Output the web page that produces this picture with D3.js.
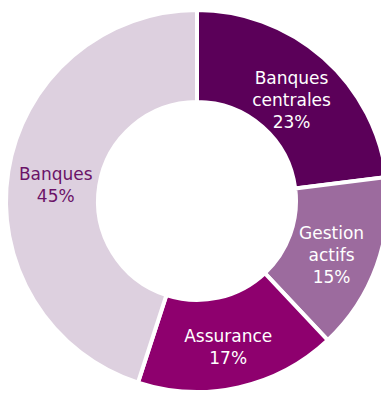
<!DOCTYPE html>
<html>
<head>
<meta charset="utf-8">
<script src="https://cdn.jsdelivr.net/npm/d3@7/dist/d3.min.js"></script>
<style>
  html, body { margin: 0; padding: 0; background: #fff; }
  svg { display: block; }
</style>
</head>
<body>
<svg id="chart" width="381" height="393"></svg>
<script>
// Répartition par type de détenteur
const categories = ["Banques centrales", "Gestion actifs", "Assurance", "Banques"];
const labelLines = [["Banques", "centrales"], ["Gestion", "actifs"], ["Assurance"], ["Banques"]];
const values = [23, 15, 17, 45];
const colors = ["#5B0059", "#9C6B9E", "#8E006E", "#DDD0DF"];
const textColors = ["#ffffff", "#ffffff", "#ffffff", "#6B1368"];

const svg = d3.select("#chart");
const cx = 197, cy = 201, outerR = 191, innerR = 99;
const g = svg.append("g").attr("transform", `translate(${cx},${cy})`);

const data = categories.map((c, i) => ({ name: c, value: values[i], i }));
const pie = d3.pie().value(d => d.value).sort(null);
const arcs = pie(data);

const arc = d3.arc().innerRadius(innerR).outerRadius(outerR);
const labelArc = d3.arc().innerRadius(143).outerRadius(143);

g.selectAll("path.slice")
  .data(arcs)
  .join("path")
  .attr("class", "slice")
  .attr("d", arc)
  .attr("fill", d => colors[d.data.i])
  .attr("stroke", "#fff")
  .attr("stroke-width", 4)
  .attr("stroke-linejoin", "miter");

const lineH = 22;
const labels = g.selectAll("text.lbl")
  .data(arcs)
  .join("text")
  .attr("class", "lbl")
  .attr("text-anchor", "middle")
  .attr("font-family", "'DejaVu Sans', Verdana, sans-serif")
  .attr("font-size", 17)
  .attr("fill", d => textColors[d.data.i])
  .attr("transform", d => {
    const [x, y] = labelArc.centroid(d);
    return `translate(${x},${y + 6})`;
  });

labels.each(function(d) {
  const lines = labelLines[d.data.i].concat([d.data.value + "%"]);
  const t = d3.select(this);
  const y0 = -((lines.length - 1) * lineH) / 2 + 6;
  lines.forEach((s, k) => {
    t.append("tspan").attr("x", 0).attr("y", y0 + k * lineH).text(s);
  });
});
</script>
</body>
</html>
